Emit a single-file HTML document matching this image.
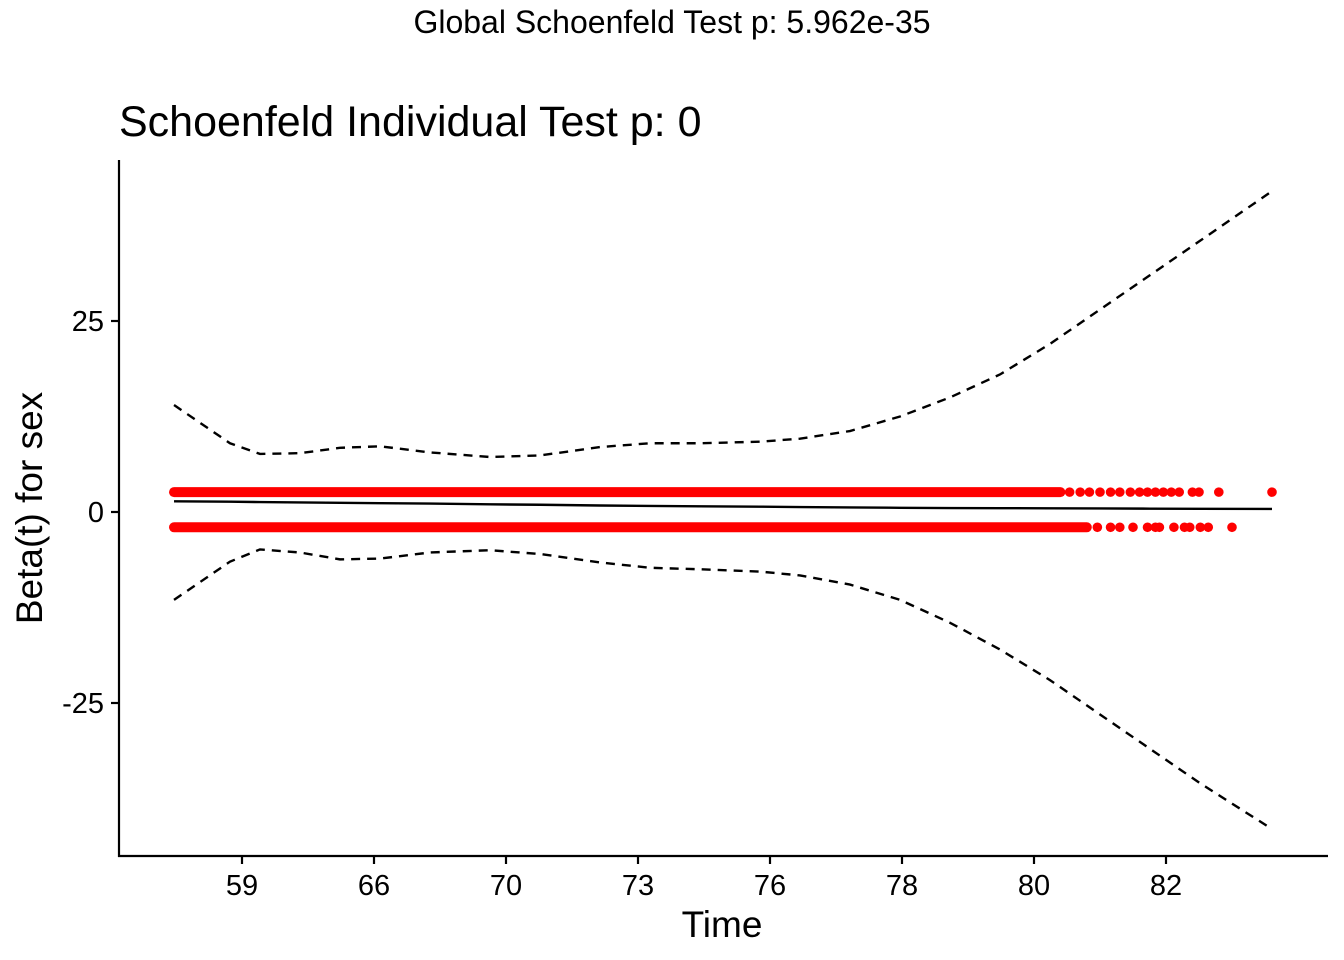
<!DOCTYPE html>
<html><head><meta charset="utf-8"><style>
body{margin:0;background:#fff;}
svg{display:block;font-family:"Liberation Sans",Arial,sans-serif;}
</style></head><body>
<svg id="chart" width="1344" height="960">
<text x="672" y="33" text-anchor="middle" font-size="32">Global Schoenfeld Test p: 5.962e-35</text>
<text x="119" y="136" font-size="43">Schoenfeld Individual Test p: 0</text>
<g id="marks"></g>
<line x1="119" y1="160" x2="119" y2="857" stroke="#000" stroke-width="2.2"/>
<line x1="118" y1="856" x2="1328" y2="856" stroke="#000" stroke-width="2.2"/>
<g id="axes"></g>
<text x="722" y="937" text-anchor="middle" font-size="37">Time</text>
<text transform="translate(42,508) rotate(-90)" text-anchor="middle" font-size="37">Beta(t) for sex</text>
</svg>
<script>
const xTickLabels=["59","66","70","73","76","78","80","82"];
const yTicks=[-25,0,25];
const curveT=[0.485,0.909,1.136,1.439,1.742,2.045,2.424,2.879,3.258,3.712,4.091,4.470,4.924,5.227,5.606,5.985,6.364,6.742,7.121,7.5,7.879,8.258,8.803];
const upperCI=[14,9,7.6,7.7,8.4,8.6,7.8,7.2,7.4,8.5,9,9,9.2,9.6,10.6,12.5,15,18,22,26.5,31,35.5,42];
const lowerCI=[-11.5,-6.5,-4.9,-5.3,-6.2,-6.1,-5.3,-5,-5.5,-6.6,-7.3,-7.5,-7.8,-8.3,-9.5,-11.5,-14.5,-18,-22,-26.5,-31,-35.5,-41.5];
const fitBeta=[1.4,1.35,1.3,1.25,1.2,1.15,1.1,1.0,0.95,0.85,0.8,0.75,0.7,0.65,0.6,0.55,0.52,0.5,0.48,0.46,0.44,0.42,0.4];
const upperResid=2.6, lowerResid=-2.0;
const upperDenseRange=[0.485,7.2];
const lowerDenseRange=[0.485,7.4];
const upperSparseT=[7.27,7.35,7.42,7.5,7.58,7.65,7.73,7.8,7.86,7.92,7.98,8.04,8.1,8.2,8.25,8.4,8.803];
const lowerSparseT=[7.48,7.58,7.65,7.75,7.86,7.92,7.95,8.06,8.14,8.18,8.26,8.32,8.5];
const X=t=>110+132*t, Y=v=>512-7.64*v;
const NS="http://www.w3.org/2000/svg";
const marks=document.getElementById('marks'), axes=document.getElementById('axes');
function mk(tag,attrs,parent){const e=document.createElementNS(NS,tag);for(const k in attrs)e.setAttribute(k,attrs[k]);parent.appendChild(e);return e;}
function band(r,v,name){const l=mk('line',{x1:X(r[0]),x2:X(r[1]),y1:Y(v),y2:Y(v),stroke:'#ff0000','stroke-width':10,'stroke-linecap':'round'},marks);

}
band(upperDenseRange,upperResid,'upper-residual-band');
band(lowerDenseRange,lowerResid,'lower-residual-band');
upperSparseT.forEach(t=>{const c=mk('circle',{cx:X(t),cy:Y(upperResid),r:4.8,fill:'#ff0000'},marks);

});
lowerSparseT.forEach(t=>{const c=mk('circle',{cx:X(t),cy:Y(lowerResid),r:4.8,fill:'#ff0000'},marks);

});
function path(vals,dash,name){const d=curveT.map((t,i)=>(i?'L':'M')+X(t)+','+Y(vals[i])).join('');
const p=mk('path',{d:d,fill:'none',stroke:'#000','stroke-width':2.4,'stroke-dasharray':dash},marks);

}
path(upperCI,'9,7','upper-ci-line');
path(lowerCI,'9,7','lower-ci-line');
path(fitBeta,'none','beta-fit-line');
xTickLabels.forEach((s,i)=>{const x=X(i+1);
const l=mk('line',{x1:x,x2:x,y1:856,y2:864,stroke:'#000','stroke-width':2.2},axes);


const t=mk('text',{x:x,y:895,'text-anchor':'middle','font-size':29},axes);t.textContent=s;

});
yTicks.forEach(v=>{const y=Y(v);
const l=mk('line',{x1:111,x2:119,y1:y,y2:y,stroke:'#000','stroke-width':2.2},axes);


const t=mk('text',{x:104,y:y+10,'text-anchor':'end','font-size':29},axes);t.textContent=v;

});
</script>
</body></html>
